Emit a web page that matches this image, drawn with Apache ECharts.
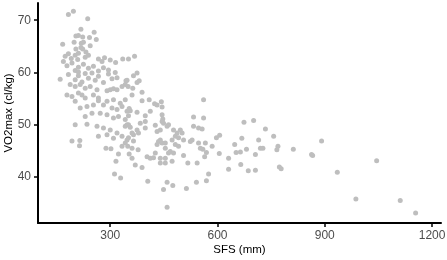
<!DOCTYPE html>
<html>
<head>
<meta charset="utf-8">
<script src="https://cdn.jsdelivr.net/npm/echarts@6/dist/echarts.min.js"></script>
<style>html,body{margin:0;padding:0;background:#fff}#c{width:447px;height:260px}</style>
</head>
<body>
<div id="c"></div>
<script>
var xTicks = [300, 600, 900, 1200];
var yTicks = [40, 50, 60, 70];
var sfs = [
183,197,237,218,255,204,211,223,242,261,199,219,225,244,167,204,218,223,232,211,174,183,191,202,209,230,239,267,277,284,300,315,335,
169,179,193,211,225,239,253,267,281,295,314,202,211,
160,183,202,211,221,230,239,249,258,267,281,295,305,319,344,188,202,216,230,244,263,291,300,309,319,333,342,
179,193,211,221,230,253,267,291,309,328,342,202,216,235,253,267,281,305,319,333,347,230,249,272,291,309,323,342,
202,235,263,281,300,319,342,351,267,291,309,333,347,193,215,342,
214,288,302,333,349,323,353,316,312,329,
351,368,365,375,347,375,381,350,363,389,361,389,409,424,431,443,445,561,353,356,375,398,412,445,447,533,561,
351,347,356,384,398,398,426,445,449,459,463,440,431,375,379,365,361,477,487,496,501,533,547,557,
351,365,473,482,491,505,435,440,445,431,454,482,491,524,529,547,566,378,361,454,468,552,559,
361,403,412,421,440,454,463,477,505,564,426,370,389,440,454,473,517,543,405,459,475,449,513,541,459,
674,701,734,757,715,668,597,606,585,569,605,648,652,664,681,720,727,706,769,766,812,891,863,866,631,665,631,686,706,773,778,575,569,935,
1045,987,1111,1154
];
var vo2 = [
71.1,71.7,70.3,68.3,67.7,67.0,67.1,66.8,66.7,66.3,65.8,65.6,65.8,65.1,65.4,64.5,64.8,64.5,63.9,63.7,63.1,63.6,62.7,63.3,62.5,62.9,63.3,62.6,62.1,62.8,62.4,61.9,62.6,
62.1,61.3,61.8,61.0,61.6,60.8,61.2,60.3,60.9,60.5,60.0,60.4,60.1,
58.7,59.6,58.6,59.4,58.2,59.8,58.9,59.9,58.5,59.3,58.1,59.7,58.8,59.0,58.4,57.7,57.3,57.7,57.0,57.3,56.7,56.5,56.7,56.9,56.7,57.3,57.7,
55.7,55.4,56.1,55.7,55.1,55.7,55.1,54.5,54.8,54.1,54.8,54.5,53.2,53.5,53.8,54.6,53.8,53.2,52.9,53.5,52.6,51.6,52.2,52.2,51.9,51.3,51.6,51.0,
50.0,50.1,49.7,49.4,49.0,48.4,49.7,50.0,47.8,48.1,47.4,47.8,47.1,46.9,47.0,46.5,
46.0,45.5,45.4,45.9,45.9,44.4,44.4,43.0,40.6,39.8,
62.6,63.1,59.4,59.9,58.5,58.1,58.4,57.3,57.0,56.2,55.7,54.6,54.8,54.0,53.8,54.4,53.4,54.8,53.1,52.7,52.4,51.7,52.6,51.9,51.1,51.5,51.3,
51.7,50.0,49.5,50.3,50.6,49.4,49.9,50.6,50.3,49.7,50.0,49.0,48.7,49.0,48.4,48.1,48.4,49.0,48.4,49.0,48.4,49.7,49.4,49.2,
47.5,46.9,47.1,47.8,47.5,47.1,46.8,47.1,46.5,46.2,46.5,46.2,45.9,46.8,47.1,46.5,46.5,45.2,45.5,45.5,44.9,45.5,45.3,
43.6,43.9,43.6,43.7,43.6,43.6,44.6,44.6,44.1,43.9,44.6,42.3,41.8,42.7,42.7,43.0,42.7,42.7,39.2,39.0,38.4,37.6,37.8,39.0,34.2,
50.5,50.8,49.2,47.8,47.1,47.4,47.5,48.0,45.9,44.7,44.5,46.2,44.7,44.8,45.3,45.5,45.5,44.3,45.9,45.2,45.3,46.9,44.3,44.1,43.6,42.4,41.5,41.2,41.3,41.9,41.6,40.6,39.3,40.9,
43.1,35.8,35.5,33.1
];
var pts = sfs.map(function (v, i) { return [v, vo2[i]]; });
var font = 'Liberation Sans, Arial, sans-serif';
var chart = echarts.init(document.getElementById('c'), null, {renderer: 'canvas'});
chart.setOption({
  animation: false,
  backgroundColor: '#fff',
  grid: {left: 38, right: 6, top: 3, bottom: 37, containLabel: false, outerBoundsMode: 'none'},
  xAxis: {
    type: 'value', min: 98, max: 1225,
    name: 'SFS (mm)', nameLocation: 'middle', nameGap: 21, nameMoveOverlap: false,
    nameTextStyle: {color: '#000', fontSize: 11.5, fontFamily: font},
    splitLine: {show: false},
    axisLine: {show: true, lineStyle: {color: '#000', width: 2}},
    axisTick: {show: true, length: 4, customValues: xTicks, lineStyle: {color: '#000', width: 1.5}},
    axisLabel: {customValues: xTicks, color: '#4d4d4d', fontSize: 12, margin: 7, fontFamily: font,
      formatter: function (v) { return String(v); }}
  },
  yAxis: {
    type: 'value', min: 31.2, max: 73.3,
    name: 'VO2max (cl/kg)', nameLocation: 'middle', nameGap: 23, nameRotate: 90, nameMoveOverlap: false,
    nameTextStyle: {color: '#000', fontSize: 11.5, fontFamily: font},
    splitLine: {show: false},
    axisLine: {show: true, lineStyle: {color: '#000', width: 2}},
    axisTick: {show: true, length: 4, customValues: yTicks, lineStyle: {color: '#000', width: 1.5}},
    axisLabel: {customValues: yTicks, color: '#4d4d4d', fontSize: 12, margin: 7, fontFamily: font,
      formatter: function (v) { return String(v); }}
  },
  series: [{
    type: 'scatter', data: pts, symbolSize: 5,
    itemStyle: {color: '#bebebe', opacity: 1}
  }]
});
</script>
</body>
</html>
